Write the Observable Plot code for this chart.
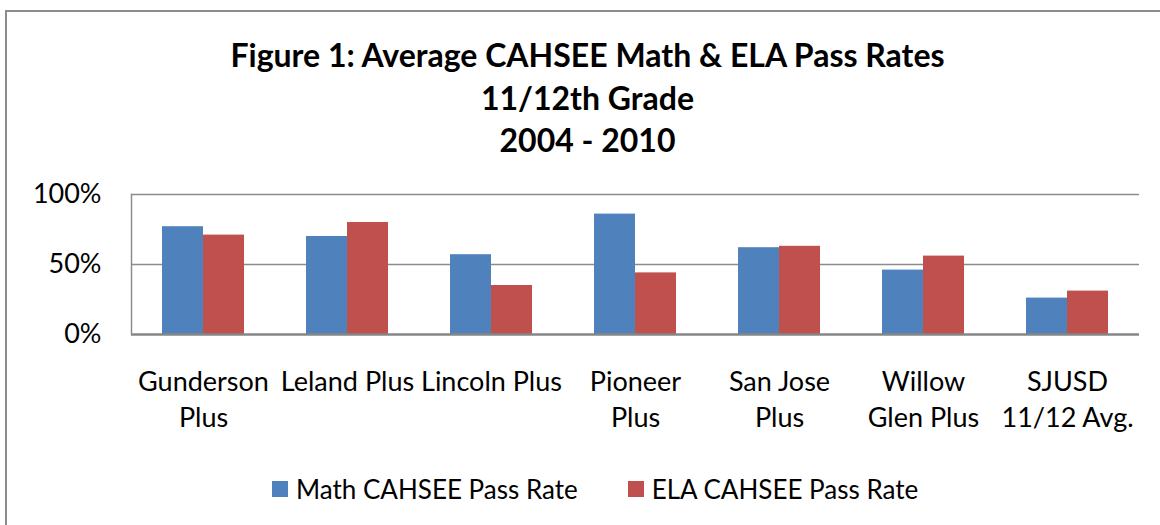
<!DOCTYPE html>
<html>
<head>
<meta charset="utf-8">
<script src="https://cdn.jsdelivr.net/npm/d3@7"></script>
<script src="https://cdn.jsdelivr.net/npm/@observablehq/plot@0.6"></script>
<style>
  html, body { margin: 0; padding: 0; background: #fff; }
  body { width: 1160px; height: 525px; position: relative; overflow: hidden; font-family: Lato, "Open Sans", sans-serif; color: #000; }
  #border { position: absolute; left: 5px; top: 10px; right: -5px; bottom: -5px; border-left: 2px solid #8c8c8c; border-top: 2px solid #8c8c8c; }
  #title { position: absolute; left: 0; width: 1175px; top: 34px; text-align: center; font-weight: bold; font-size: 32px; line-height: 42.5px; }
  #chart { position: absolute; left: 0; top: 170px; }
  #legend { position: absolute; left: 272px; top: 472px; display: flex; align-items: center; font-size: 26px; line-height: 34px; }
  .item { display: flex; align-items: center; margin-right: 50px; }
  .sw { width: 16px; height: 16px; margin-right: 8px; }
</style>
</head>
<body>
<div id="border"></div>
<div id="title"></div>
<div id="chart"></div>
<div id="legend"></div>
<script>
const titleLines = ["Figure 1: Average CAHSEE Math & ELA Pass Rates", "11/12th Grade", "2004 - 2010"];
const schools = ["Gunderson Plus", "Leland Plus", "Lincoln Plus", "Pioneer Plus", "San Jose Plus", "Willow Glen Plus", "SJUSD 11/12 Avg."];
const schoolLabels = ["Gunderson\nPlus", "Leland Plus", "Lincoln Plus", "Pioneer\nPlus", "San Jose\nPlus", "Willow\nGlen Plus", "SJUSD\n11/12 Avg."];
const seriesNames = ["Math CAHSEE Pass Rate", "ELA CAHSEE Pass Rate"];
const mathRates = [0.77, 0.70, 0.57, 0.86, 0.62, 0.46, 0.26];
const elaRates = [0.71, 0.80, 0.35, 0.44, 0.63, 0.56, 0.31];
const seriesColors = ["#4F81BD", "#C0504D"];
const yTicks = [0, 0.5, 1];

const data = schools.flatMap((s, i) => [
  {school: s, series: seriesNames[0], value: mathRates[i]},
  {school: s, series: seriesNames[1], value: elaRates[i]}
]);

document.getElementById("title").innerHTML = titleLines.map(t => t.replace(/&/g, "&amp;")).join("<br>");

const chart = Plot.plot({
  width: 1160,
  height: 270,
  marginTop: 24,
  marginBottom: 106,
  marginLeft: 130,
  marginRight: 20,
  style: {fontFamily: "Lato, 'Open Sans', sans-serif", fontSize: "27px", color: "#000", background: "transparent", overflow: "visible"},
  fx: {domain: schools, padding: 0, label: null},
  x: {domain: seriesNames, paddingInner: 0, paddingOuter: 0.735, axis: null},
  y: {domain: [0, 1], axis: null, label: null},
  color: {domain: seriesNames, range: seriesColors},
  marks: [
    Plot.gridY({ticks: yTicks.filter(d => d > 0), stroke: "#8c8c8c", strokeOpacity: 1, strokeWidth: 1.5}),
    Plot.barY(data, {fx: "school", x: "series", y: "value", fill: "series"}),
    Plot.ruleY([0], {stroke: "#868686", strokeWidth: 2.5}),
    Plot.frame({anchor: "left", facetAnchor: "left", stroke: "#8c8c8c", strokeWidth: 1.5}),
    Plot.axisY({ticks: yTicks, tickSize: 0, tickPadding: 30, tickFormat: d => Math.round(d * 100) + "%", fontSize: 27, fill: "#000", label: null}),
    Plot.axisFx({anchor: "bottom", tickSize: 0, tickPadding: 32, tickFormat: d => schoolLabels[schools.indexOf(d)], lineHeight: 1.3, fontSize: 27, fill: "#000", label: null})
  ]
});
document.getElementById("chart").appendChild(chart);

const legend = document.getElementById("legend");
seriesNames.forEach((name, i) => {
  const item = document.createElement("div");
  item.className = "item";
  const sw = document.createElement("div");
  sw.className = "sw";
  sw.style.background = seriesColors[i];
  const label = document.createElement("span");
  label.textContent = name;
  item.appendChild(sw);
  item.appendChild(label);
  legend.appendChild(item);
});
</script>
</body>
</html>
